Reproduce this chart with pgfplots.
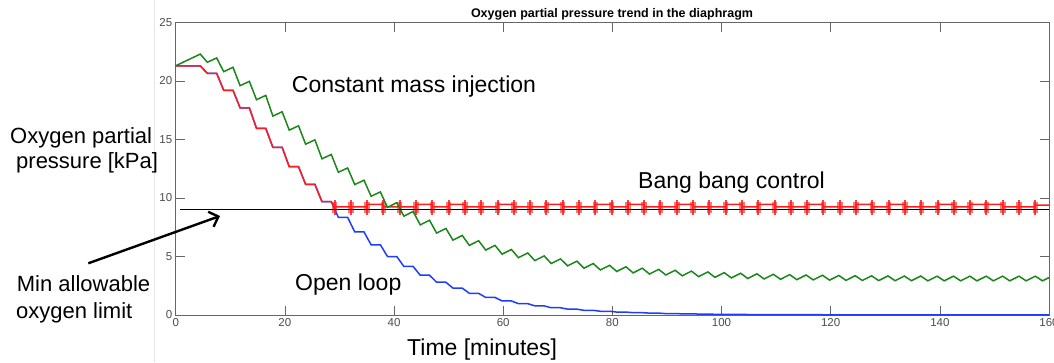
\documentclass[border=0pt]{standalone}
\usepackage{pgfplots}
\pgfplotsset{compat=1.18}
\usepackage{fontspec}
\setmainfont{Liberation Sans}
\usetikzlibrary{arrows.meta}
\definecolor{mblue}{RGB}{30,60,255}
\definecolor{mgreen}{RGB}{25,135,25}
\definecolor{mred}{RGB}{255,30,30}
\begin{document}
\begin{tikzpicture}[x=1pt,y=1pt]
\path[use as bounding box] (0,0) rectangle (1054,362);
\draw[black!10, line width=0.6pt] (154.5,0) -- (154.5,362);
\begin{axis}[
  at={(175.7pt,47pt)}, anchor=south west,
  scale only axis, width=873.3pt, height=292.5pt,
  xmin=0, xmax=160, ymin=0, ymax=25,
  xtick={0,20,...,160}, ytick={0,5,...,25},
  tick align=inside, major tick length=9pt,
  axis line style={black!60, line width=0.6pt},
  tick style={black!60, line width=0.6pt},
  ticklabel style={font=\fontsize{11.5}{13}\selectfont, text=black!70},
  /pgf/number format/assume math mode=true,
  unbounded coords=jump,
]
% open loop
\addplot[mblue, line width=1.5pt] coordinates {
(0,21.3) (4.5,21.3) (5.8,20.66) (7.5,20.66) (8.8,19.2) (10.5,19.2) (11.8,17.7) (13.5,17.7) (14.8,15.96) (16.5,15.96) (17.8,14.33) (19.5,14.33) (20.8,12.68) (22.5,12.68) (23.8,11.17) (25.5,11.17) (26.8,9.68) (28.5,9.68) (29.8,8.35) (31.5,8.35) (32.8,7.1) (34.5,7.1) (35.8,6.0) (37.5,6.0) (38.8,5.0) (40.5,5.0) (41.8,4.15) (43.5,4.15) (44.8,3.4) (46.5,3.4) (47.8,2.8) (49.5,2.8) (50.8,2.3) (52.5,2.3) (53.8,1.85) (55.5,1.85) (56.8,1.5) (58.5,1.5) (59.8,1.2) (61.5,1.2) (62.8,0.97) (64.5,0.97) (65.8,0.78) (67.5,0.78) (68.8,0.62) (70.5,0.62) (71.8,0.5) (73.5,0.5) (74.8,0.4) (76.5,0.4) (77.8,0.32) (79.5,0.32) (80.8,0.25) (82.5,0.25) (83.8,0.2) (85.5,0.2) (86.8,0.16) (88.5,0.16) (89.8,0.12) (91.5,0.12) (92.8,0.1) (94.5,0.1) (95.8,0.08) (97.5,0.08) (98.8,0.06) (100.5,0.06) (101.8,0.05) (110,0.03) (120,0.02) (135,0.01) (160,0.005)
};
% bang bang control
\addplot[mred, line width=1.5pt] coordinates {
(0,21.3) (4.5,21.3) (5.8,20.66) (7.5,20.66) (8.8,19.2) (10.5,19.2) (11.8,17.7) (13.5,17.7) (14.8,15.96) (16.5,15.96) (17.8,14.33) (19.5,14.33) (20.8,12.68) (22.5,12.68) (23.8,11.17) (25.5,11.17) (26.8,9.68) (28.5,9.68) (29.1,9.25)
(35.07,9.25) (35.07,9.45) (38.06,9.45) (38.06,9.25) (44.03,9.25) (44.03,9.45) (47.02,9.45) (47.02,9.25) (50.00,9.25) (50.00,9.45) (52.99,9.45) (52.99,9.25)
(58.96,9.25) (58.96,9.45) (61.95,9.45) (61.95,9.25) (67.92,9.25) (67.92,9.45) (70.90,9.45) (70.90,9.25) (76.88,9.25) (76.88,9.45) (79.86,9.45) (79.86,9.25)
(82.85,9.25) (82.85,9.45) (85.83,9.45) (85.83,9.25) (91.81,9.25) (91.81,9.45) (94.79,9.45) (94.79,9.25) (100.76,9.25) (100.76,9.45) (103.75,9.45) (103.75,9.25)
(106.74,9.25) (106.74,9.45) (109.72,9.45) (109.72,9.25) (115.69,9.25) (115.69,9.45) (118.68,9.45) (118.68,9.25) (124.65,9.25) (124.65,9.45) (127.64,9.45) (127.64,9.25)
(130.62,9.25) (130.62,9.45) (133.61,9.45) (133.61,9.25) (139.58,9.25) (139.58,9.45) (142.57,9.45) (142.57,9.25) (145.55,9.25) (145.55,9.45) (151.53,9.45) (151.53,9.25)
(157.50,9.25) (157.50,9.4) (160,9.4)
};
% chattering bursts of the controller: tall thin core
\addplot[mred, line width=2pt, opacity=0.85, forget plot] coordinates {
(29.10,8.55) (29.10,9.85) (29.10,nan) (32.09,8.55) (32.09,9.85) (32.09,nan) (35.07,8.55) (35.07,9.85) (35.07,nan) (38.06,8.55) (38.06,9.85) (38.06,nan)
(41.04,8.55) (41.04,9.85) (41.04,nan) (44.03,8.55) (44.03,9.85) (44.03,nan) (47.02,8.55) (47.02,9.85) (47.02,nan) (50.00,8.55) (50.00,9.85) (50.00,nan)
(52.99,8.55) (52.99,9.85) (52.99,nan) (55.97,8.55) (55.97,9.85) (55.97,nan) (58.96,8.55) (58.96,9.85) (58.96,nan) (61.95,8.55) (61.95,9.85) (61.95,nan)
(64.93,8.55) (64.93,9.85) (64.93,nan) (67.92,8.55) (67.92,9.85) (67.92,nan) (70.90,8.55) (70.90,9.85) (70.90,nan) (73.89,8.55) (73.89,9.85) (73.89,nan)
(76.88,8.55) (76.88,9.85) (76.88,nan) (79.86,8.55) (79.86,9.85) (79.86,nan) (82.85,8.55) (82.85,9.85) (82.85,nan) (85.83,8.55) (85.83,9.85) (85.83,nan)
(88.82,8.55) (88.82,9.85) (88.82,nan) (91.81,8.55) (91.81,9.85) (91.81,nan) (94.79,8.55) (94.79,9.85) (94.79,nan) (97.78,8.55) (97.78,9.85) (97.78,nan)
(100.76,8.55) (100.76,9.85) (100.76,nan) (103.75,8.55) (103.75,9.85) (103.75,nan) (106.74,8.55) (106.74,9.85) (106.74,nan) (109.72,8.55) (109.72,9.85) (109.72,nan)
(112.71,8.55) (112.71,9.85) (112.71,nan) (115.69,8.55) (115.69,9.85) (115.69,nan) (118.68,8.55) (118.68,9.85) (118.68,nan) (121.67,8.55) (121.67,9.85) (121.67,nan)
(124.65,8.55) (124.65,9.85) (124.65,nan) (127.64,8.55) (127.64,9.85) (127.64,nan) (130.62,8.55) (130.62,9.85) (130.62,nan) (133.61,8.55) (133.61,9.85) (133.61,nan)
(136.60,8.55) (136.60,9.85) (136.60,nan) (139.58,8.55) (139.58,9.85) (139.58,nan) (142.57,8.55) (142.57,9.85) (142.57,nan) (145.55,8.55) (145.55,9.85) (145.55,nan)
(148.54,8.55) (148.54,9.85) (148.54,nan) (151.53,8.55) (151.53,9.85) (151.53,nan) (154.51,8.55) (154.51,9.85) (154.51,nan) (157.50,8.55) (157.50,9.85)
};
% chattering bursts: wide lighter body
\addplot[mred, line width=5.5pt, opacity=0.6, forget plot] coordinates {
(29.10,8.75) (29.10,9.7) (29.10,nan) (32.09,8.75) (32.09,9.7) (32.09,nan) (35.07,8.75) (35.07,9.7) (35.07,nan) (38.06,8.75) (38.06,9.7) (38.06,nan)
(41.04,8.75) (41.04,9.7) (41.04,nan) (44.03,8.75) (44.03,9.7) (44.03,nan) (47.02,8.75) (47.02,9.7) (47.02,nan) (50.00,8.75) (50.00,9.7) (50.00,nan)
(52.99,8.75) (52.99,9.7) (52.99,nan) (55.97,8.75) (55.97,9.7) (55.97,nan) (58.96,8.75) (58.96,9.7) (58.96,nan) (61.95,8.75) (61.95,9.7) (61.95,nan)
(64.93,8.75) (64.93,9.7) (64.93,nan) (67.92,8.75) (67.92,9.7) (67.92,nan) (70.90,8.75) (70.90,9.7) (70.90,nan) (73.89,8.75) (73.89,9.7) (73.89,nan)
(76.88,8.75) (76.88,9.7) (76.88,nan) (79.86,8.75) (79.86,9.7) (79.86,nan) (82.85,8.75) (82.85,9.7) (82.85,nan) (85.83,8.75) (85.83,9.7) (85.83,nan)
(88.82,8.75) (88.82,9.7) (88.82,nan) (91.81,8.75) (91.81,9.7) (91.81,nan) (94.79,8.75) (94.79,9.7) (94.79,nan) (97.78,8.75) (97.78,9.7) (97.78,nan)
(100.76,8.75) (100.76,9.7) (100.76,nan) (103.75,8.75) (103.75,9.7) (103.75,nan) (106.74,8.75) (106.74,9.7) (106.74,nan) (109.72,8.75) (109.72,9.7) (109.72,nan)
(112.71,8.75) (112.71,9.7) (112.71,nan) (115.69,8.75) (115.69,9.7) (115.69,nan) (118.68,8.75) (118.68,9.7) (118.68,nan) (121.67,8.75) (121.67,9.7) (121.67,nan)
(124.65,8.75) (124.65,9.7) (124.65,nan) (127.64,8.75) (127.64,9.7) (127.64,nan) (130.62,8.75) (130.62,9.7) (130.62,nan) (133.61,8.75) (133.61,9.7) (133.61,nan)
(136.60,8.75) (136.60,9.7) (136.60,nan) (139.58,8.75) (139.58,9.7) (139.58,nan) (142.57,8.75) (142.57,9.7) (142.57,nan) (145.55,8.75) (145.55,9.7) (145.55,nan)
(148.54,8.75) (148.54,9.7) (148.54,nan) (151.53,8.75) (151.53,9.7) (151.53,nan) (154.51,8.75) (154.51,9.7) (154.51,nan) (157.50,8.75) (157.50,9.7)
};
% constant mass injection
\addplot[mgreen, line width=1.5pt] coordinates {
(0,21.3) (4.5,22.3) (5.8,21.6) (7.5,21.97) (8.8,20.8) (10.5,21.17) (11.8,19.6) (13.5,19.97) (14.8,18.4) (16.5,18.77) (17.8,17.0) (19.5,17.37) (20.8,15.8) (22.5,16.17) (23.8,14.6) (25.5,14.97) (26.8,13.35) (28.5,13.72) (29.8,12.2) (31.5,12.57) (32.8,11.15) (34.5,11.52) (35.8,10.15) (37.5,10.52) (38.8,9.2) (40.5,9.6) (41.8,8.45) (43.5,8.85) (44.8,7.7) (46.5,8.1) (47.8,7.0) (49.5,7.4) (50.8,6.4) (52.5,6.8) (53.8,5.95) (55.5,6.35) (56.8,5.55) (58.5,5.95) (59.8,5.2) (61.5,5.6) (62.8,4.9) (64.5,5.3) (65.8,4.65) (67.5,5.05) (68.8,4.4) (70.5,4.8) (71.8,4.2) (73.5,4.6) (74.8,4.0) (76.5,4.4) (77.8,3.85) (79.5,4.25) (80.8,3.72) (82.5,4.12) (83.8,3.6) (85.5,4.0) (86.8,3.5) (88.5,3.9) (89.8,3.42) (91.5,3.82) (92.8,3.35) (94.5,3.75) (95.8,3.28) (97.5,3.68) (98.8,3.22) (100.5,3.62) (101.8,3.17) (103.5,3.57) (104.8,3.12) (106.5,3.52) (107.8,3.08) (109.5,3.48) (110.8,3.05) (112.5,3.45) (113.8,3.02) (115.5,3.42) (116.8,3.0) (118.5,3.4) (119.8,2.98) (121.5,3.38) (122.8,2.96) (124.5,3.36) (125.8,2.95) (127.5,3.35) (128.8,2.94) (130.5,3.34) (131.8,2.93) (133.5,3.33) (134.8,2.93) (136.5,3.33) (137.8,2.92) (139.5,3.32) (140.8,2.92) (142.5,3.32) (143.8,2.92) (145.5,3.32) (146.8,2.92) (148.5,3.32) (149.8,2.92) (151.5,3.32) (152.8,2.92) (154.5,3.32) (155.8,2.92) (157.5,3.32) (158.8,2.92) (160,3.2)
};
% minimum allowable limit
\addplot[black, line width=1.4pt] coordinates {(0.8,9) (160,9)};
\end{axis}
\node[font=\bfseries\fontsize{12.5}{14}\selectfont, anchor=base] at (612,344.7) {Oxygen partial pressure trend in the diaphragm};
\begin{scope}[every node/.style={font=\fontsize{23}{26}\selectfont, anchor=base west, inner sep=0pt}]
\node at (291.7,269.3) {Constant mass injection};
\node at (638,174) {Bang bang control};
\node at (295,72) {Open loop};
\node at (407,7) {Time [minutes]};
\end{scope}
\begin{scope}[every node/.style={font=\fontsize{22}{26}\selectfont, anchor=base west, inner sep=0pt}]
\node at (10,218.7) {Oxygen partial};
\node at (16,193.7) {pressure [kPa]};
\node at (16.7,70.3) {Min allowable};
\node at (16,43.7) {oxygen limit};
\end{scope}
\draw[line width=2.4pt, -{Straight Barb[length=8pt,width=16pt]}] (88.3,98.7) -- (220,146);
\end{tikzpicture}
\end{document}
